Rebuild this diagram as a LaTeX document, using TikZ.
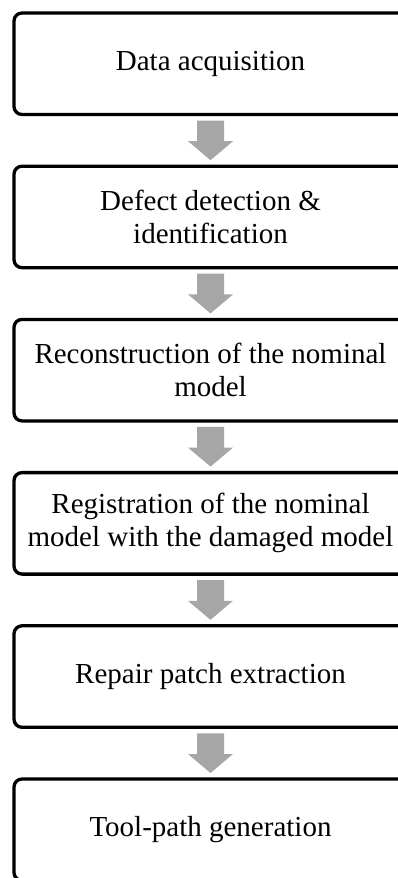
\documentclass[tikz,border=0pt]{standalone}
\usepackage{fontspec}
\setmainfont{Liberation Serif}
\usetikzlibrary{positioning,calc}
\definecolor{arrowgray}{HTML}{A6A6A6}

\begin{document}
\begin{tikzpicture}[x=1pt,y=1pt,
    stage/.style={draw, line width=3.3pt, rounded corners=8pt, outer sep=0pt, inner sep=0pt,
        minimum width=393pt, minimum height=101.5pt, align=center,
        font=\fontsize{29}{33}\selectfont},
    node distance=51.7pt]
    \useasboundingbox (0,0) rectangle (398,-878);
    \clip (0,0) rectangle (398,-878);
    % process stages
    \node[stage, anchor=north] (acq) at (210.5,-13) {Data acquisition};
    \node[stage, below=of acq] (defect) {Defect detection \&\\identification};
    \node[stage, below=of defect] (recon) {Reconstruction of the nominal\\model};
    \node[stage, below=of recon] (regis) {Registration of the nominal\\model with the damaged model};
    \node[stage, below=of regis] (patch) {Repair patch extraction};
    \node[stage, below=of patch] (toolpath) {Tool-path generation};
    % block arrows between stages
    \foreach \a/\b in {acq/defect, defect/recon, recon/regis, regis/patch, patch/toolpath}{
        \fill[arrowgray] ($(\a.south)+(-13.5,-6)$) -- ($(\a.south)+(13.5,-6)$)
            -- ($(\b.north)+(13.5,25)$) -- ($(\b.north)+(22.5,25)$) -- ($(\b.north)+(0,6)$)
            -- ($(\b.north)+(-22.5,25)$) -- ($(\b.north)+(-13.5,25)$) -- cycle;
    }
\end{tikzpicture}
\end{document}
